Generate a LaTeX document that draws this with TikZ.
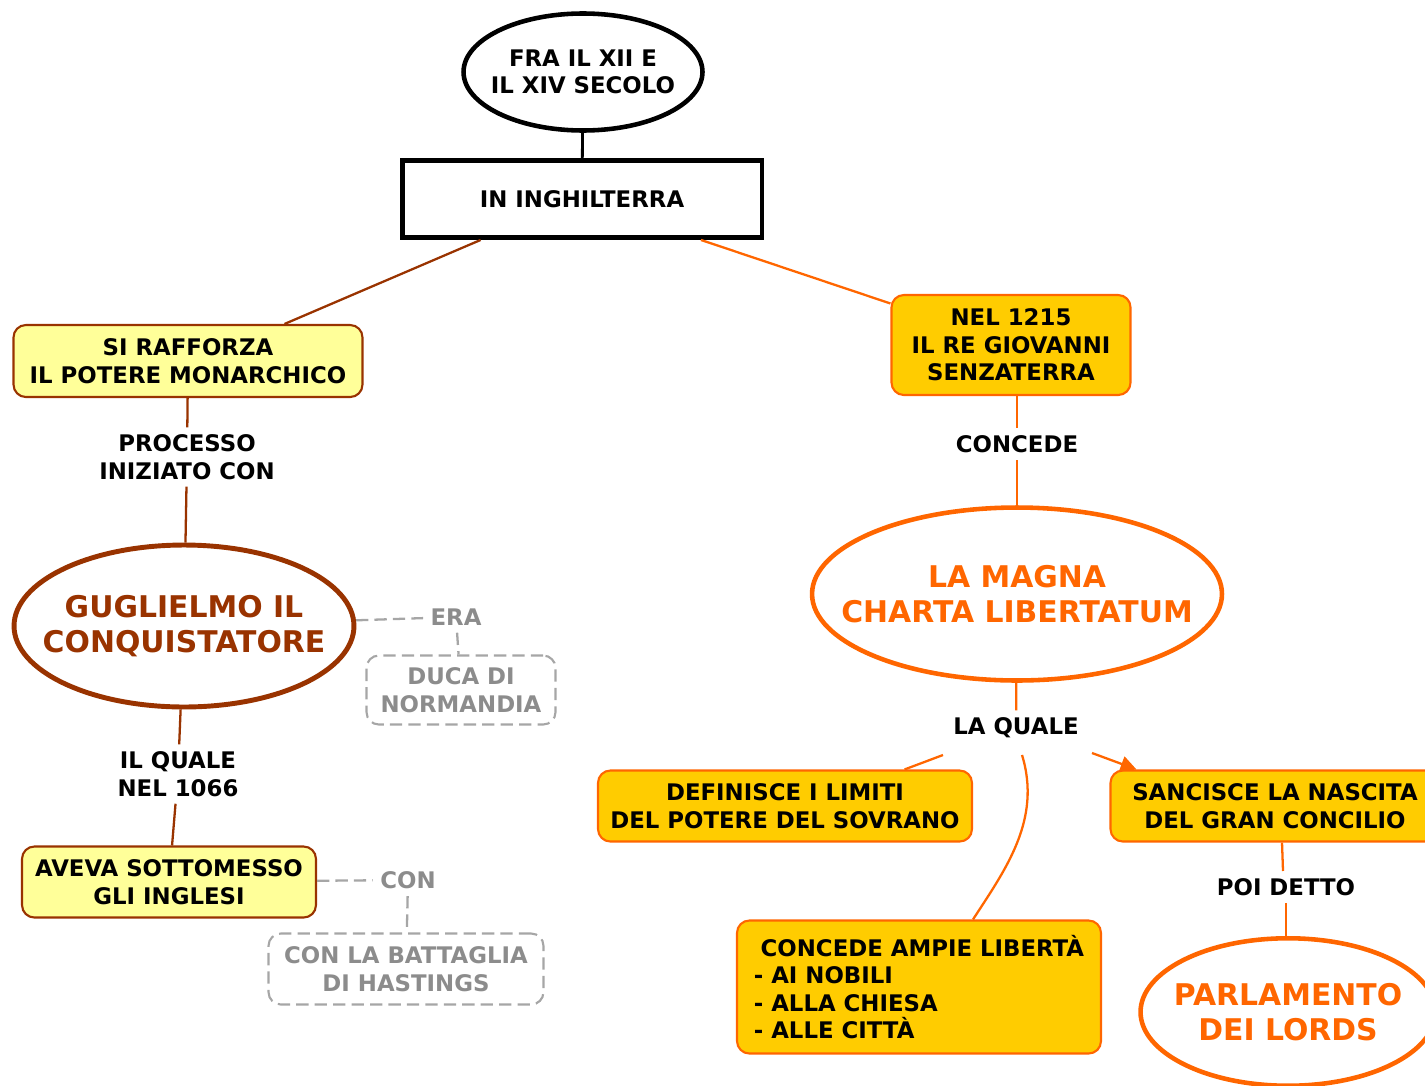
\documentclass[tikz,border=0pt]{standalone}
\usepackage{fontspec}
\setmainfont{DejaVu Sans}
\usepackage{tikz}
\usetikzlibrary{shapes.geometric,arrows.meta,calc}
\definecolor{brn}{HTML}{993300}
\definecolor{org}{HTML}{FF6600}
\definecolor{ylw}{HTML}{FFFF99}
\definecolor{gld}{HTML}{FFCC00}
\definecolor{gry}{HTML}{A6A6A6}
\definecolor{gtx}{HTML}{8C8C8C}
\newcommand{\smallfnt}{\fontsize{13}{15.6}\selectfont\bfseries}
\newcommand{\bigfnt}{\fontsize{17}{20}\selectfont\bfseries}

\begin{document}
\begin{tikzpicture}[x=0.02cm,y=-0.02cm,
  txt/.style={font=\smallfnt,align=center,inner sep=4pt},
  ybox/.style={txt,draw=brn,fill=ylw,line width=1.2pt,rounded corners=7pt},
  obox/.style={txt,draw=org,fill=gld,line width=1.2pt,rounded corners=7pt},
  gbox/.style={txt,draw=gry,text=gtx,line width=1.2pt,rounded corners=7pt,dash pattern=on 7pt off 3.5pt},
  oval/.style={ellipse,align=center,inner xsep=-30pt,inner ysep=0pt,line width=2.6pt},
  lbl/.style={txt,text=black},
  glbl/.style={txt,text=gtx},
  bl/.style={brn,line width=1.3pt},
  ol/.style={org,line width=1.3pt},
  gl/.style={gry,line width=1.3pt,dash pattern=on 7pt off 3.5pt}
]
\useasboundingbox (0,0) rectangle (1425,1085);

% top
\node[oval,draw=black,font=\smallfnt,minimum width=4.78cm,minimum height=2.34cm] (fra) at (583,72) {FRA IL XII E\\IL XIV SECOLO};
\node[txt,draw=black,line width=2.8pt,minimum width=7.2cm,minimum height=1.54cm] (ingh) at (582,199) {IN INGHILTERRA};
\draw[line width=1.6pt] (fra) -- (ingh);

% left branch
\node[ybox,minimum width=6.98cm,minimum height=1.44cm] (forza) at (188,361) {SI RAFFORZA\\IL POTERE MONARCHICO};
\node[lbl] (proc) at (187,457) {PROCESSO\\INIZIATO CON};
\node[oval,draw=brn,text=brn,font=\bigfnt,line width=2.8pt,minimum width=6.8cm,minimum height=3.24cm] (gugl) at (184,626) {GUGLIELMO IL\\CONQUISTATORE};
\node[glbl] (era) at (456,617) {ERA};
\node[gbox,minimum width=3.78cm,minimum height=1.38cm] (duca) at (461,690) {DUCA DI\\NORMANDIA};
\node[lbl] (quale) at (178,774) {IL QUALE\\NEL 1066};
\node[ybox,minimum width=5.88cm,minimum height=1.42cm] (aveva) at (169,882) {AVEVA SOTTOMESSO\\GLI INGLESI};
\node[glbl] (con) at (408,880) {CON};
\node[gbox,minimum width=5.5cm,minimum height=1.42cm] (hast) at (406,969) {CON LA BATTAGLIA\\DI HASTINGS};

\draw[bl] (ingh.202) -- (forza.21);
\draw[bl] (forza) -- (proc);
\draw[bl] (proc) -- (gugl);
\draw[bl] (gugl) -- (quale);
\draw[bl] (quale) -- (aveva);
\draw[gl] (gugl) -- (era);
\draw[gl] (era) -- (duca);
\draw[gl] (aveva) -- (con);
\draw[gl] (con) -- (hast);

% right branch
\node[obox,minimum width=4.78cm,minimum height=2.0cm] (anno) at (1011,345) {NEL 1215\\IL RE GIOVANNI\\SENZATERRA};
\node[lbl] (concede) at (1017,444) {CONCEDE};
\node[oval,draw=org,text=org,font=\bigfnt,minimum width=8.2cm,minimum height=3.46cm] (magna) at (1017,594) {LA MAGNA\\CHARTA LIBERTATUM};
\node[lbl] (laq) at (1016,728) {LA QUALE};
\node[obox,minimum width=7.48cm,minimum height=1.42cm] (limiti) at (785,806) {DEFINISCE I LIMITI\\DEL POTERE DEL SOVRANO};
\node[obox,minimum width=6.58cm,minimum height=1.42cm] (nascita) at (1275,806) {SANCISCE LA NASCITA\\DEL GRAN CONCILIO};
\node[obox,align=left,minimum width=7.28cm,minimum height=2.66cm] (liberta) at (919,987) {\hspace*{0.3em}CONCEDE AMPIE LIBERTÀ\\- AI NOBILI\\- ALLA CHIESA\\- ALLE CITTÀ};
\node[lbl] (detto) at (1286,887) {POI DETTO};
\node[oval,draw=org,text=org,font=\bigfnt,minimum width=5.9cm,minimum height=2.95cm] (parl) at (1288,1012) {PARLAMENTO\\DEI LORDS};

\draw[ol] (ingh.341) -- (anno.161);
\draw[ol] (concede.north |- anno.south) -- (concede.north);
\draw[ol] (concede) -- (magna);
\draw[ol] (magna) -- (laq);
\draw[ol] ($(laq.center)+(-73,27)$) -- (limiti.17);
\draw[ol,-{Triangle[length=9pt,width=9pt]}] ($(laq.center)+(76,25)$) -- ($(nascita.north west)+(27,0)$);
\draw[ol] ($(laq.center)+(6,27)$) .. controls (1042,820) and (1005,870) .. ($(liberta.north west)+(237,0)$);
\draw[ol] ($(nascita.south)+(7,0)$) -- ($(detto.north)+(-3,0)$);
\draw[ol] (detto.south) -- (detto.south |- parl.north);
\end{tikzpicture}
\end{document}
